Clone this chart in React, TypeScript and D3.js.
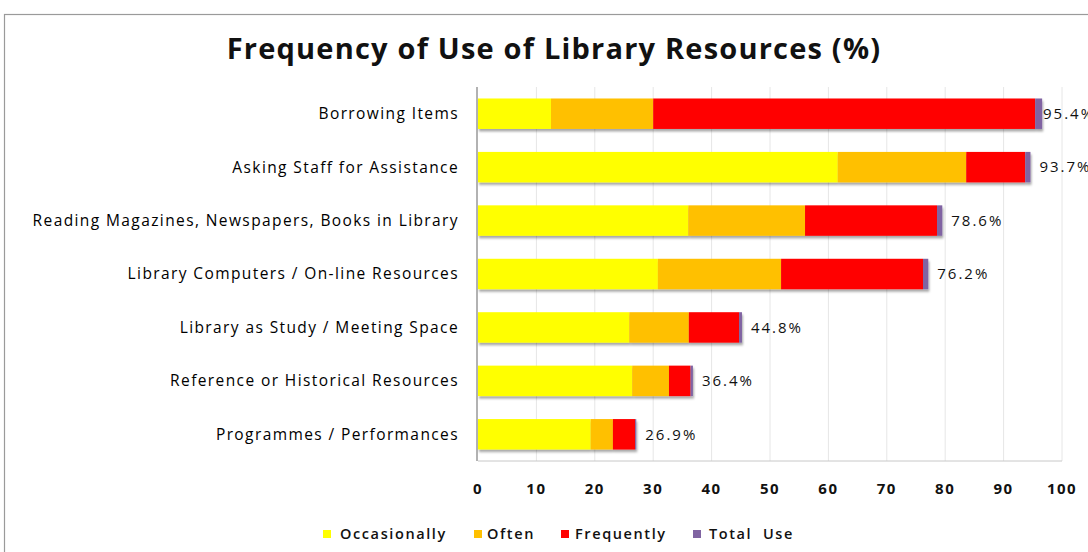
import React from "react";
import * as d3 from "d3";

const categories = [
  "Borrowing Items",
  "Asking Staff for Assistance",
  "Reading Magazines, Newspapers, Books in Library",
  "Library Computers / On-line Resources",
  "Library as Study / Meeting Space",
  "Reference or Historical Resources",
  "Programmes / Performances",
];
const occasionally = [12.5, 61.6, 36.0, 30.8, 25.9, 26.4, 19.3];
const often = [17.5, 22.0, 20.0, 21.1, 10.2, 6.3, 3.8];
const frequently = [65.4, 10.1, 22.6, 24.3, 8.6, 3.7, 3.8];
const totalUseStub = [1.2, 0.9, 0.9, 0.9, 0.5, 0.4, 0.2];
const totalLabels = ["95.4%", "93.7%", "78.6%", "76.2%", "44.8%", "36.4%", "26.9%"];
const xTicks = [0, 10, 20, 30, 40, 50, 60, 70, 80, 90, 100];
const seriesNames = ["Occasionally", "Often", "Frequently", "Total  Use"];
const seriesColors = ["#FFFF00", "#FFC000", "#FF0000", "#8064A2"];

const W = 1088;
const H = 552;
const plotLeft = 478;
const plotRight = 1062;
const plotTop = 87;
const plotBottom = 461;
const FONT = "'Open Sans', 'Noto Sans', sans-serif";

export default function App() {
  const x = d3.scaleLinear().domain([0, 100]).range([plotLeft, plotRight]);
  const y = d3
    .scaleBand<string>()
    .domain(categories)
    .range([plotTop, plotBottom])
    .paddingInner(0.43)
    .paddingOuter(0.215);

  const rows = categories.map((c, i) => ({
    cat: c,
    vals: [occasionally[i], often[i], frequently[i], totalUseStub[i]],
    label: totalLabels[i],
  }));
  const stack = d3
    .stack<any>()
    .keys(["0", "1", "2", "3"])
    .value((d: any, k: string) => d.vals[+k]);
  const stacked = stack(rows);

  const legendItems = [
    { x: 323, textX: 340 },
    { x: 474, textX: 487 },
    { x: 561, textX: 575 },
    { x: 693, textX: 709 },
  ];

  return (
    <svg
      width={W}
      height={H}
      style={{ position: "absolute", left: 0, top: 0, background: "#fff" }}
    >
      <defs>
        <filter id="shadow" x="-5%" y="-20%" width="110%" height="160%">
          <feDropShadow dx="1" dy="2.5" stdDeviation="1.2" floodColor="#000" floodOpacity="0.35" />
        </filter>
      </defs>
      <rect x={4.5} y={14.5} width={W} height={H} fill="#fff" stroke="#9a9a9a" strokeWidth={1.2} />
      <text
        x={554}
        y={59}
        textAnchor="middle"
        fontFamily={FONT}
        fontWeight="bold"
        fontSize={29}
        letterSpacing={1.2}
        fill="#111"
      >
        Frequency of Use of Library Resources (%)
      </text>

      {xTicks.slice(1).map((t) => (
        <line key={"g" + t} x1={x(t)} x2={x(t)} y1={plotTop} y2={plotBottom} stroke="#e6e6e6" strokeWidth={1} />
      ))}
      <line x1={plotLeft} x2={plotRight} y1={plotBottom} y2={plotBottom} stroke="#c8c8c8" strokeWidth={1} />

      {rows.map((r, i) => (
        <g key={r.cat} filter="url(#shadow)">
          {stacked.map((s, k) => (
            <rect
              key={k}
              x={x(s[i][0])}
              y={y(r.cat)!}
              width={Math.max(0, x(s[i][1]) - x(s[i][0]))}
              height={y.bandwidth()}
              fill={seriesColors[k]}
            />
          ))}
        </g>
      ))}

      <line x1={plotLeft - 1} x2={plotLeft - 1} y1={plotTop} y2={plotBottom} stroke="#999" strokeWidth={1.5} />

      {rows.map((r, i) => (
        <text
          key={"c" + i}
          x={459}
          y={y(r.cat)! + y.bandwidth() / 2}
          dy="0.35em"
          textAnchor="end"
          fontFamily={FONT}
          fontSize={15.5}
          letterSpacing={1.4}
          fill="#000"
        >
          {r.cat}
        </text>
      ))}

      {rows.map((r, i) => {
        const end = x(stacked[3][i][1]);
        return (
          <text
            key={"v" + i}
            x={Math.min(end + 9, 1043)}
            y={y(r.cat)! + y.bandwidth() / 2}
            dy="0.35em"
            fontFamily={FONT}
            fontSize={15}
            letterSpacing={2}
            fill="#111"
          >
            {r.label}
          </text>
        );
      })}

      {xTicks.map((t) => (
        <text
          key={"t" + t}
          x={x(t)}
          y={489}
          dy="0.35em"
          textAnchor="middle"
          fontFamily={FONT}
          fontWeight="bold"
          fontSize={15}
          letterSpacing={1.5}
          fill="#111"
        >
          {t}
        </text>
      ))}

      {seriesNames.map((n, k) => (
        <g key={"l" + k}>
          <rect x={legendItems[k].x} y={530} width={8} height={8} fill={seriesColors[k]} />
          <text
            x={legendItems[k].textX}
            y={534}
            dy="0.35em"
            fontFamily={FONT}
            fontWeight={600}
            fontSize={14.5}
            letterSpacing={1.6}
            fill="#111"
            style={{ whiteSpace: "pre" }}
          >
            {n}
          </text>
        </g>
      ))}
    </svg>
  );
}
